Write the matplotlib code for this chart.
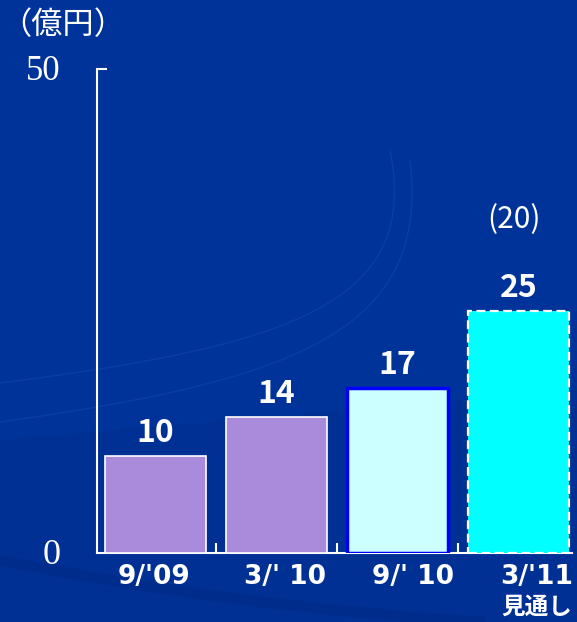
import matplotlib.pyplot as plt
import numpy as np

plt.rcParams['font.family'] = ['Noto Sans CJK JP', 'DejaVu Sans']

periods = ["9/'09", "3/' 10", "9/' 10", "3/'11"]
values = [10, 14, 17, 25]
face_colors = ['#A98ADB', '#A98ADB', '#CCFFFF', '#00FFFF']
edge_colors = ['white', 'white', '#0000FF', 'white']
edge_styles = ['solid', 'solid', 'solid', (0, (4, 2))]
edge_widths = [1.2, 1.2, 2.5, 1.6]
forecast_label = '見通し'
prior_forecast = '(20)'
unit_label = '（億円）'


def bezier(p0, p1, p2, p3, n=200):
    t = np.linspace(0, 1, n)[:, None]
    p0, p1, p2, p3 = map(np.array, (p0, p1, p2, p3))
    return (1 - t)**3 * p0 + 3 * (1 - t)**2 * t * p1 + 3 * (1 - t) * t**2 * p2 + t**3 * p3


bg = '#003399'
fig = plt.figure(figsize=(5.77, 6.22), dpi=100)
fig.patch.set_facecolor(bg)

# faint swirl in the background (pixel coords)
bga = fig.add_axes([0, 0, 1, 1], zorder=-1)
bga.set_xlim(0, 577)
bga.set_ylim(622, 0)
bga.axis('off')
lower = bezier((0, 422), (300, 380), (430, 330), (410, 160))
upper = bezier((0, 383), (300, 345), (420, 300), (390, 150))
bga.fill_between(np.linspace(0, 577, 100), 440 + np.linspace(0, -50, 100),
                 622, color='#002F90', alpha=0.5, lw=0)
bga.plot(lower[:, 0], lower[:, 1], color='#0D43A6', lw=1, alpha=0.7)
bga.plot(upper[:, 0], upper[:, 1], color='#0D43A6', lw=1, alpha=0.7)
band = bezier((0, 560), (150, 590), (300, 610), (480, 622))
bga.plot(band[:, 0], band[:, 1], color='#002C88', lw=8, alpha=0.6)

ax = fig.add_axes([97 / 577, 69 / 622, 475 / 577, 484 / 622])
ax.set_facecolor('none')
x = np.arange(len(values))
for i in x:
    ax.bar(i, values[i], width=0.835, color=face_colors[i], edgecolor=edge_colors[i],
           linewidth=edge_widths[i], linestyle=edge_styles[i], zorder=3)
    ax.text(i, values[i] + 1.45, str(values[i]), ha='center', va='baseline', color='white',
            fontsize=23, fontweight='bold')
ax.text(2.96, 34.5, prior_forecast, ha='center', va='center', color='white', fontsize=21.5)

ax.set_xlim(-0.483, 3.44)
ax.set_ylim(0, 50)
for s in ['top', 'right']:
    ax.spines[s].set_visible(False)
for s in ['left', 'bottom']:
    ax.spines[s].set_color('white')
    ax.spines[s].set_linewidth(1.5)

ax.set_yticks([50])
ax.set_yticklabels([])
ax.tick_params(axis='y', direction='in', length=7, width=1.5, color='white')
ax.set_xticks([0.5, 1.5, 2.5])
ax.set_xticklabels([])
ax.tick_params(axis='x', direction='in', length=7, width=1.5, color='white')

label_shift = [-0.01, 0.07, 0.13, 0.15]
for i, lab in enumerate(periods):
    ax.text(i + label_shift[i], -2.5, lab, ha='center', va='center', color='white',
            fontsize=19, fontweight='bold', family=['DejaVu Sans'])
ax.text(3 + label_shift[3], -5.6, forecast_label, ha='center', va='center', color='white',
        fontsize=17, fontweight='bold')

fig.text(61 / 577, 1 - 71 / 622, '50', ha='right', va='center', color='white',
         fontsize=25, family=['Liberation Serif'])
fig.text(52 / 577, 1 - 556 / 622, '0', ha='center', va='center', color='white',
         fontsize=26, family=['Liberation Serif'])
fig.text(0, 1 - 25 / 622, unit_label, ha='left', va='center', color='white',
         fontsize=22.5)

fig.savefig('out.png', dpi=100, facecolor=bg)
